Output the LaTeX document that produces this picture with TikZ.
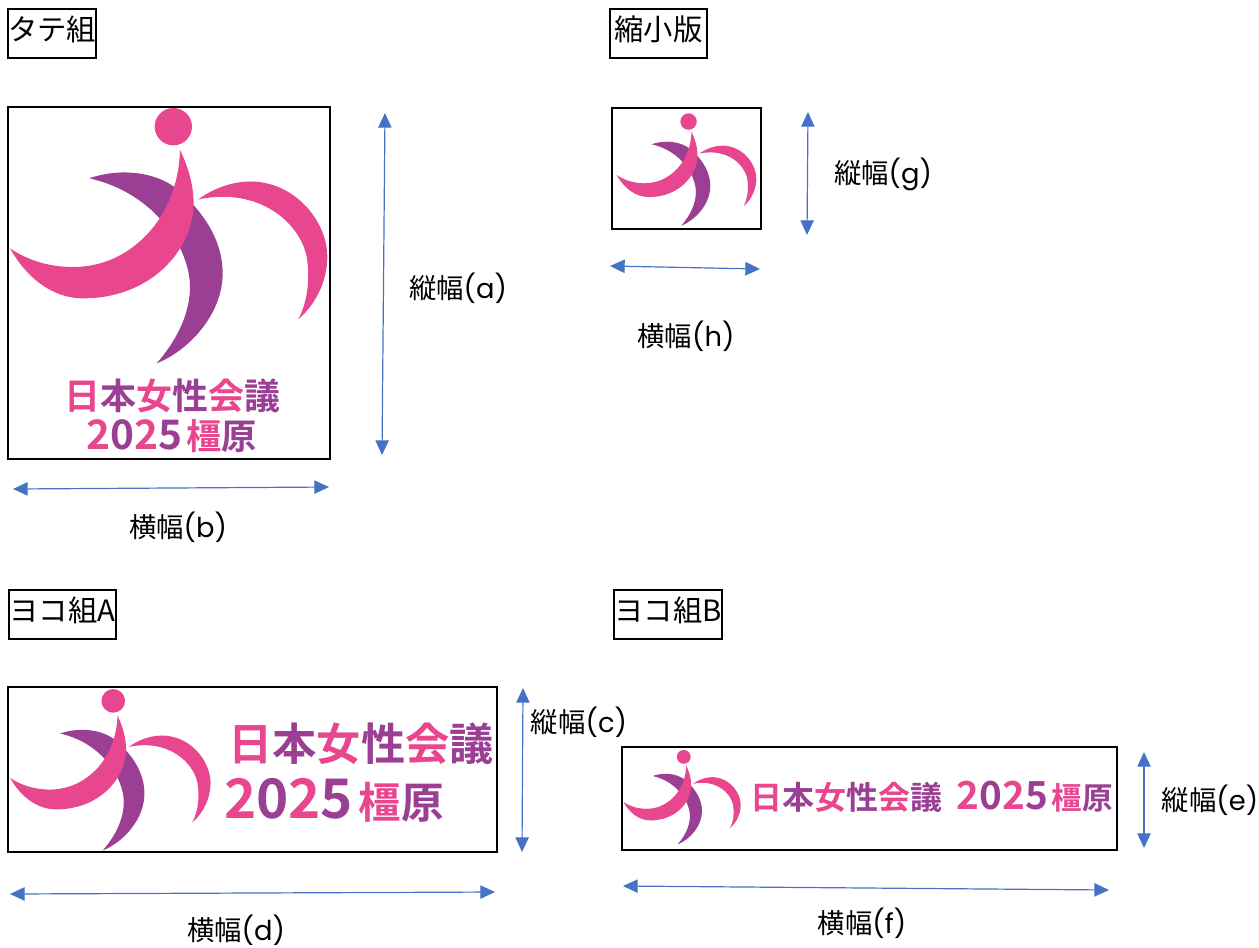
\documentclass[tikz,border=0pt]{standalone}
\usepackage{fontspec}
\usetikzlibrary{arrows.meta}
\setmainfont{Poppins}
\newfontfamily\jpfont{Noto Sans CJK JP}
\newfontfamily\jpbold{Noto Sans CJK JP Bold}
\definecolor{lpink}{HTML}{E8478F}
\definecolor{lpurple}{HTML}{9A3F93}
\definecolor{arrowblue}{HTML}{4472C4}
\newcommand{\pk}[1]{\textcolor{lpink}{#1}}
\newcommand{\pu}[1]{\textcolor{lpurple}{#1}}
\newcommand{\logomark}[3]{%
\begin{scope}[shift={(#1,#2)},x=.25pt,y=-.25pt,scale=#3]
\fill[lpurple] (268,265) .. controls (350,235) and (470,240) .. (540,305) .. controls (630,385) and (668,470) .. (668,550) .. controls (668,670) and (570,780) .. (470,820) .. controls (540,740) and (570,660) .. (570,590) .. controls (570,480) and (470,310) .. (268,265) -- cycle;
\fill[lpink] (30,475) .. controls (110,530) and (230,550) .. (330,510) .. controls (440,465) and (535,350) .. (540,180) .. controls (575,250) and (590,330) .. (575,390) .. controls (550,510) and (430,625) .. (250,625) .. controls (150,625) and (75,555) .. (30,475) -- cycle;
\fill[lpink] (595,328) .. controls (660,280) and (740,265) .. (800,280) .. controls (910,305) and (982,410) .. (982,500) .. controls (982,570) and (950,640) .. (895,688) .. controls (925,630) and (930,560) .. (920,500) .. controls (900,400) and (780,290) .. (595,328) -- cycle;
\fill[lpink] (520,110) circle[radius=56];
\end{scope}}
\tikzset{
  titlebox/.style={draw=black,line width=1.2pt,inner sep=0pt,outer sep=0pt,text height=11.2pt,text depth=0pt,font=\jpfont\fontsize{22}{24}\selectfont,anchor=center},
  framebox/.style={draw=black,line width=1.2pt,inner sep=0pt,outer sep=0pt,anchor=north west},
  dim/.style={arrowblue,line width=.9pt,{Triangle[length=11pt,width=10pt]}-{Triangle[length=11pt,width=10pt]}},
  dimlabel/.style={font=\fontsize{20.5}{24}\selectfont,inner sep=0pt,anchor=center,text=black},
  logotext/.style={inner sep=0pt,anchor=center,font=\jpbold}
}
\newcommand{\sz}[1]{\fontsize{#1}{#1}\selectfont}
\newcommand{\jp}[1]{{\jpfont #1}}
\begin{document}
\begin{tikzpicture}[x=.75pt,y=-.75pt]
\useasboundingbox (0,0) rectangle (1259,947);
% frames
\node[framebox,minimum width=241.5pt,minimum height=264pt] (tate) at (8,107) {};
\node[framebox,minimum width=111.75pt,minimum height=90.75pt] (small) at (612,108) {};
\node[framebox,minimum width=366.75pt,minimum height=123.75pt] (yokoa) at (8,687) {};
\node[framebox,minimum width=371.25pt,minimum height=77.25pt] (yokob) at (622,747) {};
% titles
\node[titlebox,minimum width=66pt,minimum height=36.75pt] (t1) at (52,33.5) {タテ組};
\node[titlebox,minimum width=72.75pt,minimum height=36.75pt] (t2) at (658.5,33.5) {縮小版};
\node[titlebox,minimum width=80.25pt,minimum height=36.75pt] (t3) at (62.5,614.5) {ヨコ組A};
\node[titlebox,minimum width=81pt,minimum height=36.75pt] (t4) at (668,614.5) {ヨコ組B};
% marks
\logomark{0}{90}{1}
\logomark{3.7}{677.7}{.632}
\logomark{619.6}{743.3}{.37}
\logomark{612.3}{105.4}{.44}
% logo text
\node[logotext] (lt1) at (172,395.5) {\sz{27}\pk{日}\pu{本}\pk{女}\pu{性}\pk{会}\pu{議}};
\node[logotext] (lt2) at (171.5,436.5) {\sz{30.5}\pk{2}\pu{0}\pk{2}\pu{5}\hspace{3pt}\sz{26.5}\pk{橿}\pu{原}};
\node[logotext] (lt3) at (361,744) {\sz{33.2}\pk{日}\pu{本}\pk{女}\pu{性}\pk{会}\pu{議}};
\node[logotext] (lt4) at (334,800) {\sz{41}\pk{2}\pu{0}\pk{2}\pu{5}\hspace{4pt}\sz{32}\pk{橿}\pu{原}};
\node[logotext] (lt5) at (846,797) {\sz{24}\pk{日}\pu{本}\pk{女}\pu{性}\pk{会}\pu{議}};
\node[logotext] (lt6) at (1035,797) {\sz{29}\pk{2}\pu{0}\pk{2}\pu{5}\hspace{3pt}\sz{23}\pk{橿}\pu{原}};
% arrow ends
\coordinate (a1) at (385,113); \coordinate (a2) at (382,455);
\coordinate (b1) at (13,489); \coordinate (b2) at (329,487);
\coordinate (g1) at (808,112); \coordinate (g2) at (807,235);
\coordinate (h1) at (610,266); \coordinate (h2) at (760,269);
\coordinate (c1) at (523,688); \coordinate (c2) at (522,852);
\coordinate (d1) at (10,894); \coordinate (d2) at (495,892);
\coordinate (e1) at (1144,752); \coordinate (e2) at (1144,848);
\coordinate (f1) at (623,886); \coordinate (f2) at (1109,890);
\foreach \p/\q in {a1/a2,b1/b2,g1/g2,h1/h2,c1/c2,d1/d2,e1/e2,f1/f2} \draw[dim] (\p) -- (\q);
% labels
\node[dimlabel] (la) at (458,288) {\jp{縦幅}(a)};
\node[dimlabel] (lb) at (178,527) {\jp{横幅}(b)};
\node[dimlabel] (lg) at (883,174) {\jp{縦幅}(g)};
\node[dimlabel] (lh) at (686,336) {\jp{横幅}(h)};
\node[dimlabel] (lc) at (579,722) {\jp{縦幅}(c)};
\node[dimlabel] (ld) at (236,930) {\jp{横幅}(d)};
\node[dimlabel] (le) at (1210,800) {\jp{縦幅}(e)};
\node[dimlabel] (lf) at (862,923) {\jp{横幅}(f)};
\end{tikzpicture}
\end{document}
